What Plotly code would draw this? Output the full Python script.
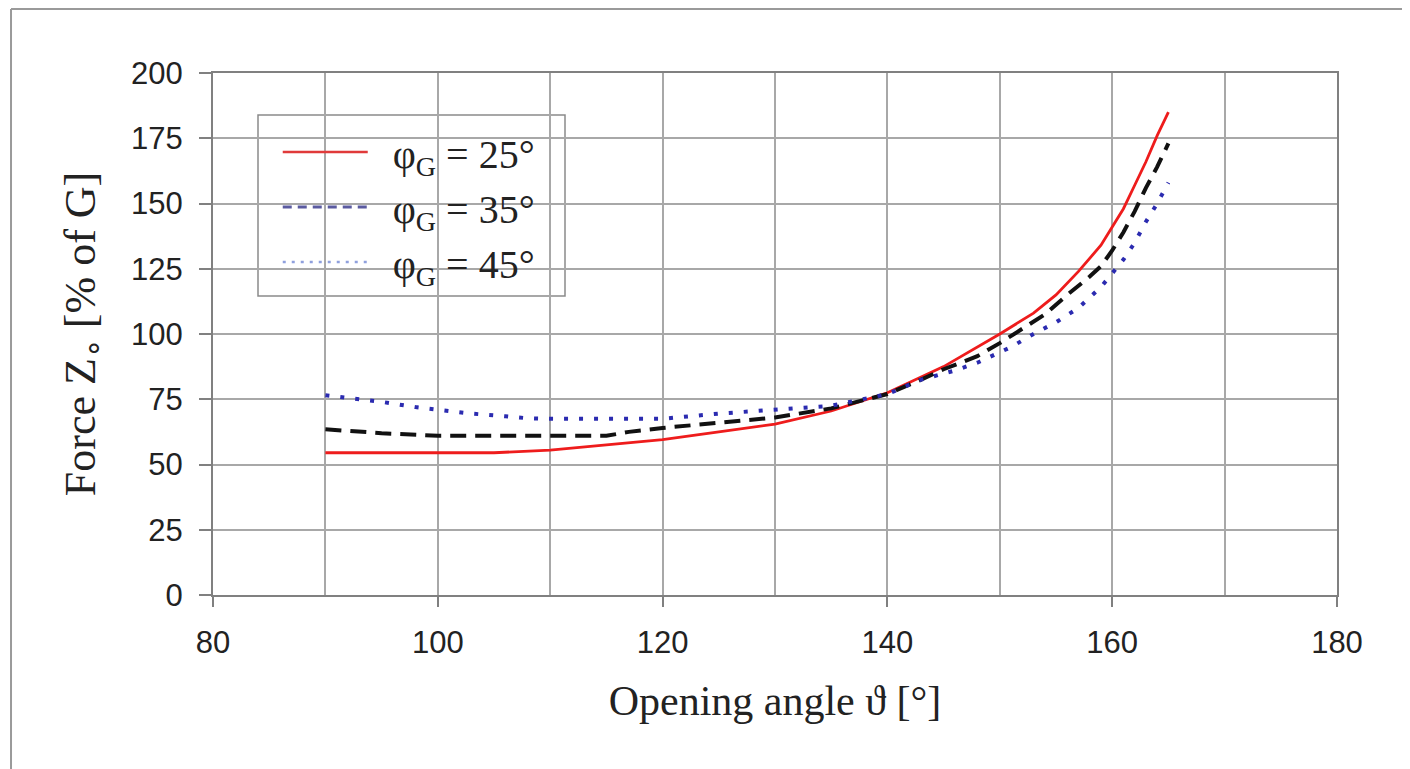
import plotly.graph_objects as go

# Opening angle (deg) and force Zo (% of G) for each phi_G
theta_25 = [90, 95, 100, 105, 110, 115, 120, 125, 130, 135, 140, 145, 150, 153, 155, 157, 159, 160, 161, 162, 163, 164, 165]
force_25 = [54.5, 54.5, 54.5, 54.5, 55.5, 57.5, 59.5, 62.5, 65.5, 70.5, 77.5, 87.5, 100, 108, 115, 124, 134, 141, 148, 157, 166, 176, 185]

theta_35 = [90, 95, 100, 105, 110, 115, 117, 120, 125, 130, 135, 140, 143, 145, 148, 150, 152, 154, 156, 158, 159, 160, 161, 162, 163, 164, 165]
force_35 = [63.5, 62, 61, 61, 61, 61, 62.5, 64, 66, 68, 71.5, 77, 82.5, 86.5, 91.5, 96.5, 102, 107.5, 115, 122, 126, 132, 139, 147, 156, 164, 173]

theta_45 = [90, 92, 95, 98, 100, 103, 106, 108, 110, 115, 120, 125, 130, 135, 140, 143, 146, 148, 151, 153, 155, 157, 159, 160, 161, 162, 163, 164, 165]
force_45 = [76.5, 75.5, 74, 72, 71, 69.5, 68.5, 67.7, 67.5, 67.5, 67.5, 69.5, 71, 72.5, 77, 82.5, 86, 89, 95, 100, 104.5, 110, 118, 123, 128.5, 135, 143, 150, 158]

legend_labels = ["&nbsp;&nbsp;φ<sub>G</sub> = 25°", "&nbsp;&nbsp;φ<sub>G</sub> = 35°", "&nbsp;&nbsp;φ<sub>G</sub> = 45°"]

x_ticks = [80, 100, 120, 140, 160, 180]
y_ticks = [0, 25, 50, 75, 100, 125, 150, 175, 200]

fig = go.Figure()

# data curves (styles as drawn in the plot)
fig.add_trace(go.Scatter(x=theta_25, y=force_25, mode="lines", showlegend=False,
                         line=dict(color="#ee1c1c", width=2.8)))
fig.add_trace(go.Scatter(x=theta_35, y=force_35, mode="lines", showlegend=False,
                         line=dict(color="#111111", width=4, dash="16px,9px")))
fig.add_trace(go.Scatter(x=theta_45, y=force_45, mode="lines", showlegend=False,
                         line=dict(color="#2b2bb0", width=4, dash="4px,11px")))

# legend entries (styles as drawn in the legend)
leg_styles = [dict(color="#e03a3a", width=2.5),
              dict(color="#5a5aa0", width=3, dash="9px,6px"),
              dict(color="#8fa0dd", width=2.5, dash="3px,6px")]
for lab, st in zip(legend_labels, leg_styles):
    fig.add_trace(go.Scatter(x=[None], y=[None], mode="lines", name=lab, line=st))

tick_font = dict(family="Liberation Sans, Arial, sans-serif", size=31, color="#222222")
title_font = dict(family="Liberation Serif, Times New Roman, serif", size=42, color="#222222")
ytitle_font = dict(family="Liberation Serif, Times New Roman, serif", size=44, color="#222222")

fig.update_layout(
    width=1410, height=769,
    margin=dict(l=205, r=81, t=65, b=182),
    paper_bgcolor="white", plot_bgcolor="white",
    showlegend=True,
    legend=dict(x=0.0576, y=0.911, xanchor="left", yanchor="top",
                bgcolor="rgba(0,0,0,0)", borderwidth=0,
                font=dict(family="Liberation Serif, Times New Roman, serif", size=40, color="#222222"),
                itemwidth=85, tracegroupgap=0),
    xaxis=dict(range=[80, 180], tickvals=x_ticks, ticktext=[str(v) for v in x_ticks],
               ticks="outside", ticklen=10, tickcolor="#808080", tickwidth=1.5,
               ticklabelstandoff=9,
               showgrid=True, gridcolor="#a8a8a8", gridwidth=1.5,
               minor=dict(dtick=10, tick0=80, showgrid=True, gridcolor="#a8a8a8", gridwidth=1.5, ticks=""),
               showline=True, linecolor="#808080", linewidth=2, mirror=True,
               zeroline=False, tickfont=tick_font,
               title=dict(text="Opening angle ϑ [°]", font=title_font, standoff=26)),
    yaxis=dict(range=[0, 200], tickvals=y_ticks, ticktext=[str(v) for v in y_ticks],
               ticks="outside", ticklen=12, tickcolor="#808080", tickwidth=1.5,
               ticklabelstandoff=10,
               showgrid=True, gridcolor="#a8a8a8", gridwidth=1.5,
               showline=True, linecolor="#808080", linewidth=2, mirror=True,
               zeroline=False, tickfont=tick_font,
               title=dict(text="Force Z<sub>∘</sub> [% of G]", font=ytitle_font, standoff=22)),
)

# legend box (white, covering the grid)
fig.add_shape(type="rect", xref="paper", yref="paper", layer="between",
              x0=(258 - 213) / 1124, x1=(565 - 213) / 1124,
              y0=(595 - 296) / 522, y1=(595 - 115) / 522,
              fillcolor="white", line=dict(color="#8a8a8a", width=1.5))

# outer frame (left and top edges visible)
fig.add_shape(type="line", xref="paper", yref="paper", x0=-0.1797, x1=-0.1797, y0=-0.35, y1=1.1226,
              line=dict(color="#9a9a9a", width=2))
fig.add_shape(type="line", xref="paper", yref="paper", x0=-0.1797, x1=1.2, y0=1.1226, y1=1.1226,
              line=dict(color="#9a9a9a", width=2))

fig.write_html("out.html")
